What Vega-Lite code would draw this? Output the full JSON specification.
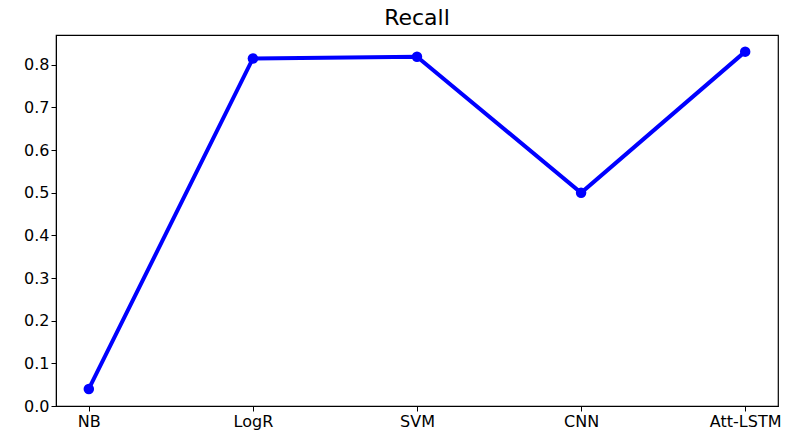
{
  "$schema": "https://vega.github.io/schema/vega-lite/v6.json",
  "autosize": {"type": "none"},
  "padding": {"left": 56, "top": 35, "right": 12, "bottom": 24},
  "width": 722,
  "height": 371,
  "background": "white",
  "title": {"text": "Recall", "font": "DejaVu Sans", "fontSize": 22, "fontWeight": "normal", "color": "black", "offset": 5, "anchor": "middle"},
  "data": {"values": [
    {"model": "NB", "recall": 0.04},
    {"model": "LogR", "recall": 0.815},
    {"model": "SVM", "recall": 0.819},
    {"model": "CNN", "recall": 0.5},
    {"model": "Att-LSTM", "recall": 0.831}
  ]},
  "config": {
    "view": {"stroke": "black", "strokeWidth": 1.2},
    "axis": {"labelFont": "DejaVu Sans", "labelFontSize": 16, "labelColor": "black", "domainColor": "black", "tickColor": "black", "tickSize": 5, "grid": false, "title": null, "labelPadding": 2}
  },
  "layer": [
    {
      "mark": {"type": "line", "color": "#0000ff", "strokeWidth": 4},
      "encoding": {
        "x": {"field": "model", "type": "ordinal", "sort": null, "scale": {"type": "point", "padding": 0.2}, "axis": {"labelAngle": 0}},
        "y": {"field": "recall", "type": "quantitative", "scale": {"domain": [0, 0.87], "nice": false, "zero": true}, "axis": {"values": [0, 0.1, 0.2, 0.3, 0.4, 0.5, 0.6, 0.7, 0.8], "format": ".1f"}}
      }
    },
    {
      "mark": {"type": "point", "filled": true, "color": "#0000ff", "size": 110, "opacity": 1},
      "encoding": {
        "x": {"field": "model", "type": "ordinal", "sort": null, "scale": {"type": "point", "padding": 0.2}},
        "y": {"field": "recall", "type": "quantitative"}
      }
    }
  ]
}
